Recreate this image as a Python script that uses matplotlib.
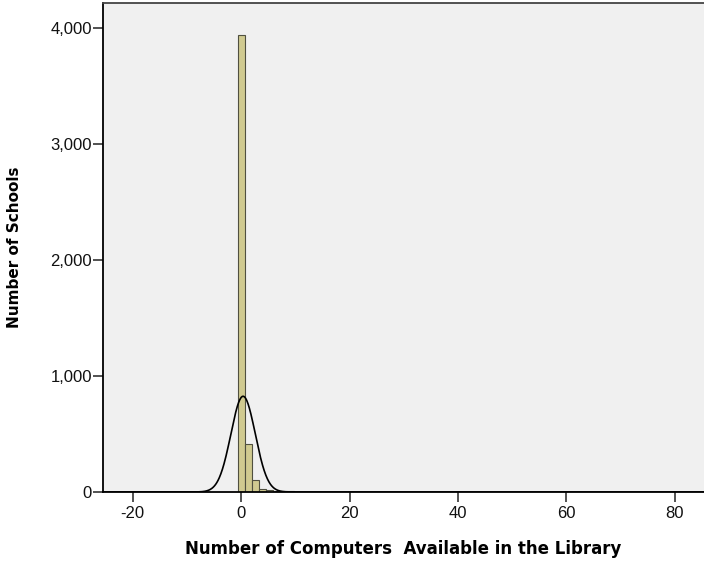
import numpy as np
import matplotlib
matplotlib.use("Agg")
import matplotlib.pyplot as plt
from matplotlib.ticker import FuncFormatter

plt.rcParams["axes.unicode_minus"] = False

# histogram bins (left edges) and counts
bin_width = 1.3
bin_left = [-0.65, 0.65, 1.95, 3.25, 4.55, 5.85, 7.15, 8.45, 9.75, 11.05, 12.35, 13.65,
            19.25, 48.5, 65.8, 67.1, 69.7]
counts = [3940, 415, 100, 28, 18, 12, 8, 5, 4, 3, 2, 2,
          2, 3, 3, 3, 2]

# fitted normal curve
curve_mean = 0.35
curve_sd = 2.25
curve_n = 3580

fig = plt.figure(figsize=(7.04, 5.62), dpi=100)
fig.patch.set_facecolor("white")
ax = fig.add_axes([0.1463, 0.1246, 0.8537, 0.8701])
ax.set_facecolor("#f0f0f0")

ax.bar(bin_left, counts, width=bin_width, align="edge",
       color="#d0ca90", edgecolor="#505040", linewidth=0.8, zorder=2)

xs = np.linspace(-25.5, 85.4, 1500)
pdf = np.exp(-0.5 * ((xs - curve_mean) / curve_sd) ** 2) / (curve_sd * np.sqrt(2 * np.pi))
ax.plot(xs, curve_n * bin_width * pdf, color="black", linewidth=1.2, zorder=3)

ax.set_xlim(-25.5, 85.4)
ax.set_ylim(0, 4216)
ax.set_xticks([-20, 0, 20, 40, 60, 80])
ax.set_yticks([0, 1000, 2000, 3000, 4000])
ax.yaxis.set_major_formatter(FuncFormatter(lambda v, p: f"{int(v):,}"))

for s in ["left", "bottom", "top"]:
    ax.spines[s].set_linewidth(1.3)
    ax.spines[s].set_color("black")
ax.spines["top"].set_color("#444444")
ax.spines["right"].set_visible(False)

ax.tick_params(direction="out", length=7, width=1.2, color="#333333",
               labelsize=12, labelcolor="#111111")
ax.tick_params(axis="y", pad=1)
ax.tick_params(axis="x", pad=3)
for lab in ax.get_xticklabels() + ax.get_yticklabels():
    lab.set_family(["Liberation Sans", "DejaVu Sans"])

ax.set_xlabel("Number of Computers  Available in the Library", labelpad=14,
              family="DejaVu Sans", weight="bold", size=12)
ax.set_ylabel("Number of Schools", labelpad=20,
              family="DejaVu Sans", weight="bold", size=11)

fig.savefig("out.png", dpi=100)
